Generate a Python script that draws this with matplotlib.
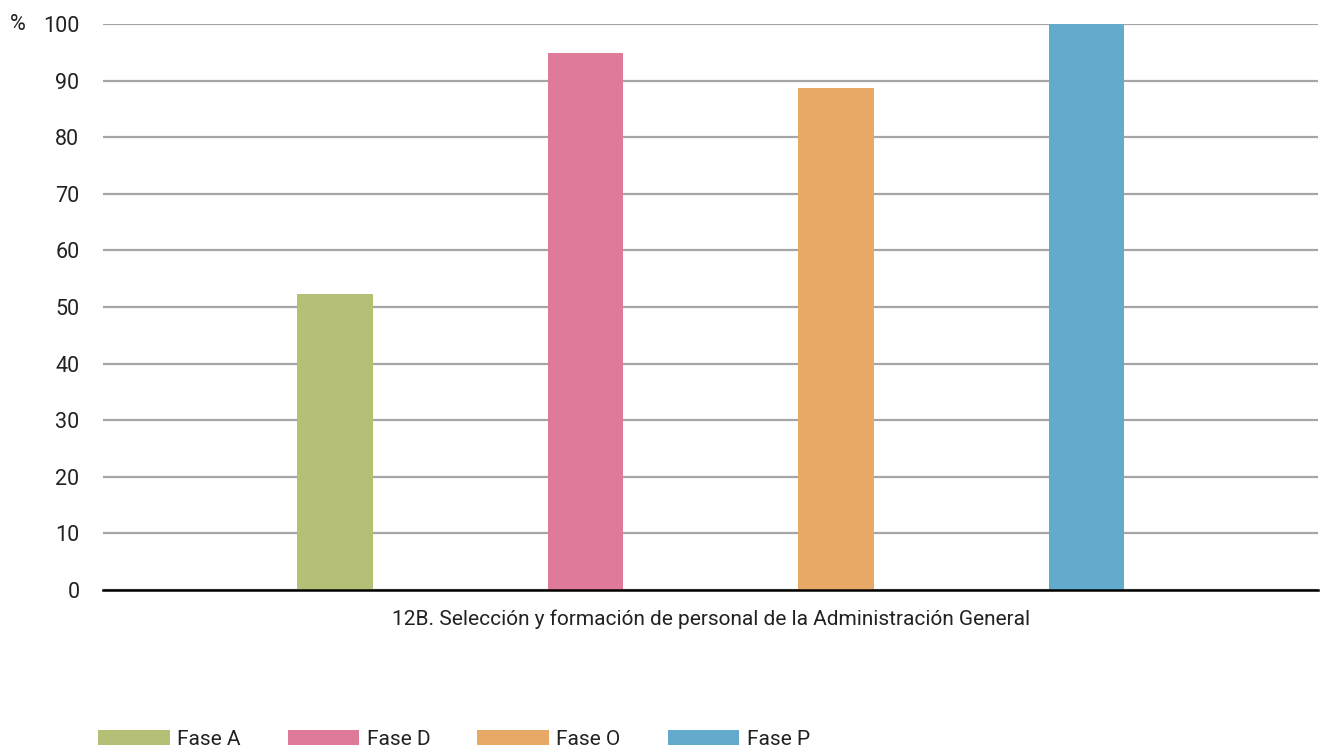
import matplotlib.pyplot as plt
import numpy as np

plt.rcParams['font.family'] = ['Roboto', 'DejaVu Sans']

# datos
fases = ["Fase A", "Fase D", "Fase O", "Fase P"]
valores = [52.3, 94.9, 88.7, 100.0]
colores = ["#b5bf75", "#df7a98", "#e8a966", "#62abcc"]
categoria = "12B. Selección y formación de personal de la Administración General"
yticks = [0, 10, 20, 30, 40, 50, 60, 70, 80, 90, 100]

fig = plt.figure(figsize=(13.21, 7.51), dpi=100)
ax = fig.add_axes([0.078, 0.2144, 0.9197, 0.7536])

x = np.arange(len(fases))
for i in range(len(fases)):
    ax.bar(x[i], valores[i], width=0.303, color=colores[i], label=fases[i], zorder=3)

ax.set_xlim(-0.926, 3.924)
ax.set_ylim(0, 100)
ax.set_yticks(yticks)
ax.yaxis.grid(True, color="#a6a6a6", linewidth=1.6, zorder=0)
ax.set_axisbelow(True)

for s in ["top", "right", "left"]:
    ax.spines[s].set_visible(False)
ax.spines["bottom"].set_linewidth(1.8)
ax.spines["bottom"].set_color("black")
ax.spines["bottom"].set_zorder(4)

ax.set_xticks([1.5])
ax.set_xticklabels([categoria], fontsize=15, color="#222222")
ax.tick_params(axis="x", length=0, pad=14)
ax.tick_params(axis="y", length=0, pad=17, labelsize=15.5, labelcolor="#222222")

fig.text(18 / 1321, 1 - 25 / 751, "%", fontsize=15.5, color="#222222", ha="center", va="center")

fig.legend(loc="lower left", bbox_to_anchor=(0.060, -0.022), ncol=4, frameon=False,
           fontsize=15, handlelength=3.45, handleheight=0.7, handletextpad=0.35,
           columnspacing=2.25, labelcolor="#222222")

plt.savefig("out.png", dpi=100)
